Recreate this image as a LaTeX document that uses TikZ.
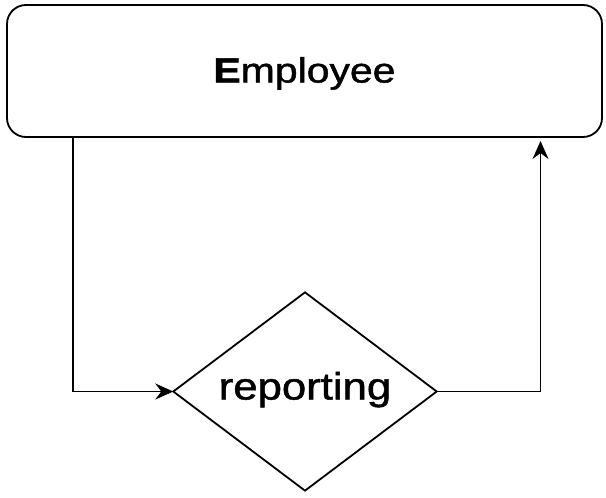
\documentclass[tikz,border=0pt]{standalone}
\usepackage{fontspec}
\setmainfont{Liberation Sans}
\newfontfamily\heavyfont[FakeBold=1.2]{Liberation Sans}
\usetikzlibrary{shapes.geometric,arrows.meta}
\tikzset{
  box/.style={draw=black, line width=1.8pt, rounded corners=19pt, minimum width=595pt, minimum height=132pt, inner sep=0pt, outer sep=0pt},
  dia/.style={draw=black, line width=1.8pt, diamond, minimum width=263.4pt, minimum height=198.3pt, inner sep=0pt, outer sep=0pt},
  arr/.style={line width=1.8pt, -{Stealth[length=18pt,width=16pt,inset=6pt]}}
}
\begin{document}
\begin{tikzpicture}[x=1pt,y=-1pt]
\useasboundingbox (0,0) rectangle (606,498);
\node[box, text height=25pt, text depth=2pt, font=\heavyfont\fontsize{35}{40}\selectfont] (emp) at (304.5,71) {\scalebox{1.17}[1]{\textbf{E}mployee}};
\node[dia, text height=20pt, text depth=4pt, font=\heavyfont\fontsize{38}{44}\selectfont] (rep) at (305,391.5) {\scalebox{1.15}[1]{reporting}};
\coordinate (lx) at (72.7,0);
\coordinate (rx) at (540.5,0);
\draw[arr] (lx |- emp.south) |- (rep.west);
\draw[arr, shorten >=4pt] (rep.east) -| (rx |- emp.south);
\end{tikzpicture}
\end{document}
